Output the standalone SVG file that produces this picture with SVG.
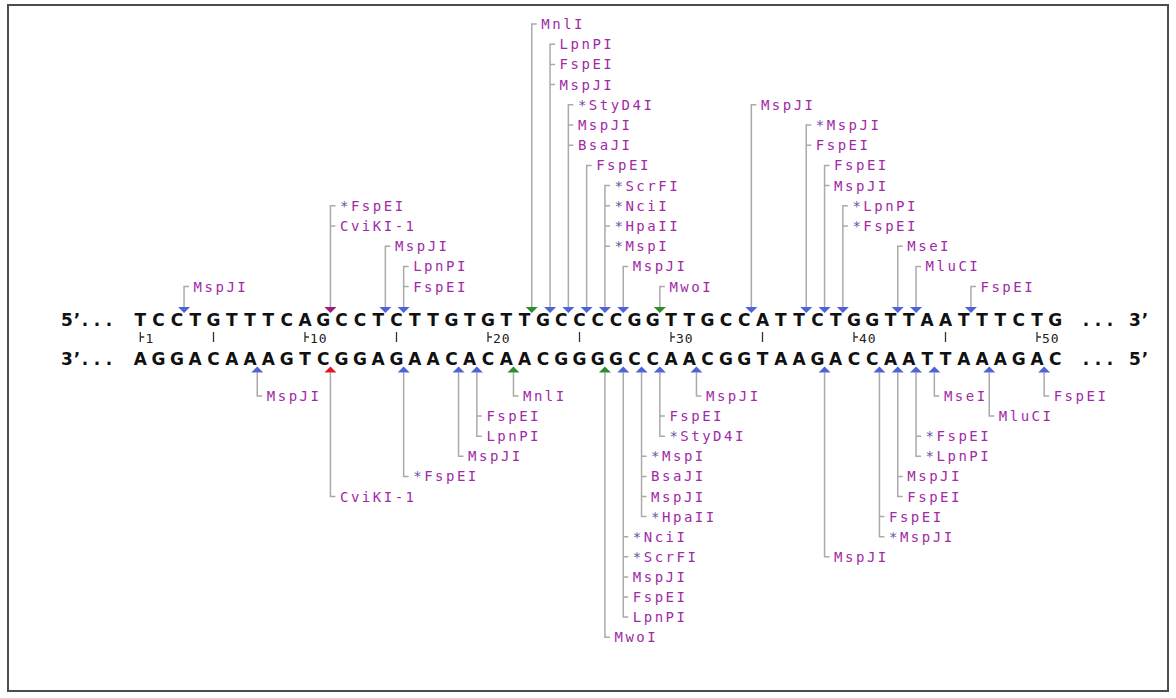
<svg xmlns="http://www.w3.org/2000/svg" xmlns:xlink="http://www.w3.org/1999/xlink" width="1176" height="698" viewBox="0 0 1176 698">
  <defs>
    <style>
      .frame{fill:#fff;stroke:#4d4d4d;stroke-width:2}
      .seq{font-family:"DejaVu Sans",sans-serif;font-weight:bold;font-size:17px;fill:#111;text-anchor:middle}
      .tick{fill:none;stroke:#333;stroke-width:1.3}
      .num{font-family:"DejaVu Sans Mono",monospace;font-size:13px;fill:#222;letter-spacing:1px}
      .lbl{font-family:"DejaVu Sans Mono",monospace;font-size:14px;letter-spacing:2.5px;fill:#a12aa6}
      .st{fill:#6a52a8}
      #connectors path{fill:none;stroke:#aaaaaa;stroke-width:1.5}
      .blue{fill:#4f63d9}
      .green{fill:#2e8b2e}
      .purple{fill:#9b1c7c}
      .red{fill:#e3161f}
    </style>
    <!-- cut-site markers: down for the top strand, up for the bottom strand -->
    <path id="dn" d="M-6,0H6L0,6Z"/>
    <path id="up" d="M-6,0H6L0,-6Z"/>
  </defs>

  <rect class="frame" x="8" y="5" width="1160" height="686"/>

  <!-- connectors: leader lines from cut sites to enzyme names -->
  <g id="connectors">
    <!-- top strand -->
    <path d="M189.05,286.6H184.05V307"/>
    <path d="M335.45,205.8H330.45V307M330.45,226H335.45"/>
    <path d="M390.35,246.2H385.35V307"/>
    <path d="M408.65,266.4H403.65V307M403.65,286.6H408.65"/>
    <path d="M536.75,24H531.75V307"/>
    <path d="M555.05,44.2H550.05V307M550.05,64.4H555.05M550.05,84.6H555.05"/>
    <path d="M573.35,104.8H568.35V307M568.35,125H573.35M568.35,145.2H573.35"/>
    <path d="M591.65,165.4H586.65V307"/>
    <path d="M609.95,185.6H604.95V307M604.95,205.8H609.95M604.95,226H609.95M604.95,246.2H609.95"/>
    <path d="M628.25,266.4H623.25V307"/>
    <path d="M664.85,286.6H659.85V307"/>
    <path d="M756.35,104.8H751.35V307"/>
    <path d="M811.25,125H806.25V307M806.25,145.2H811.25"/>
    <path d="M829.55,165.4H824.55V307M824.55,185.6H829.55"/>
    <path d="M847.85,205.8H842.85V307M842.85,226H847.85"/>
    <path d="M902.75,246.2H897.75V307"/>
    <path d="M921.05,266.4H916.05V307"/>
    <path d="M975.95,286.6H970.95V307"/>
    <!-- bottom strand -->
    <path d="M257.25,372.5V396H262.25"/>
    <path d="M330.45,372.5V496.5H335.45"/>
    <path d="M403.65,372.5V476.4H408.65"/>
    <path d="M458.55,372.5V456.3H463.55"/>
    <path d="M476.85,372.5V436.2H481.85M476.85,416.1H481.85"/>
    <path d="M513.45,372.5V396H518.45"/>
    <path d="M604.95,372.5V637.2H609.95"/>
    <path d="M623.25,372.5V617.1H628.25M623.25,536.7H628.25M623.25,556.8H628.25M623.25,576.9H628.25M623.25,597H628.25"/>
    <path d="M641.55,372.5V516.6H646.55M641.55,456.3H646.55M641.55,476.4H646.55M641.55,496.5H646.55"/>
    <path d="M659.85,372.5V436.2H664.85M659.85,416.1H664.85"/>
    <path d="M696.45,372.5V396H701.45"/>
    <path d="M824.55,372.5V556.8H829.55"/>
    <path d="M879.45,372.5V536.7H884.45M879.45,516.6H884.45"/>
    <path d="M897.75,372.5V496.5H902.75M897.75,476.4H902.75"/>
    <path d="M916.05,372.5V456.3H921.05M916.05,436.2H921.05"/>
    <path d="M934.35,372.5V396H939.35"/>
    <path d="M989.25,372.5V416.1H994.25"/>
    <path d="M1044.15,372.5V396H1049.15"/>
  </g>

  <!-- double-stranded sequence with ruler -->
  <g id="sequence">
    <text class="seq" x="67 77 85 97 109" y="326">5’...</text>
    <text class="seq" y="326" x="140.3 158.6 176.9 195.2 213.5 231.8 250.1 268.4 286.7 305 323.3 341.6 359.9 378.2 396.5 414.8 433.1 451.4 469.7 488 506.3 524.6 542.9 561.2 579.5 597.8 616.1 634.4 652.7 671 689.3 707.6 725.9 744.2 762.5 780.8 799.1 817.4 835.7 854 872.3 890.6 908.9 927.2 945.5 963.8 982.1 1000.4 1018.7 1037 1055.3">TCCTGTTTCAGCCTCTTGTGTTGCCCCGGTTGCCATTCTGGTTAATTTCTG</text>
    <text class="seq" x="1086 1098 1110 1135 1145" y="326">...3’</text>

    <text class="seq" x="67 77 85 97 109" y="365">3’...</text>
    <text class="seq" y="365" x="140.3 158.6 176.9 195.2 213.5 231.8 250.1 268.4 286.7 305 323.3 341.6 359.9 378.2 396.5 414.8 433.1 451.4 469.7 488 506.3 524.6 542.9 561.2 579.5 597.8 616.1 634.4 652.7 671 689.3 707.6 725.9 744.2 762.5 780.8 799.1 817.4 835.7 854 872.3 890.6 908.9 927.2 945.5 963.8 982.1 1000.4 1018.7 1037 1055.3">AGGACAAAGTCGGAGAACACAACGGGGCCAACGGTAAGACCAATTAAAGAC</text>
    <text class="seq" x="1086 1098 1110 1135 1145" y="365">...5’</text>

    <g id="ruler">
      <path class="tick" d="M140.3,332V342M140.3,337H144.3 M213.5,332V342 M305,332V342M305,337H309 M396.5,332V342 M488,332V342M488,337H492 M579.5,332V342 M671,332V342M671,337H675 M762.5,332V342 M854,332V342M854,337H858 M945.5,332V342 M1037,332V342M1037,337H1041"/>
      <text class="num" x="145.5" y="342.5">1</text>
      <text class="num" x="310" y="342.5">10</text>
      <text class="num" x="493" y="342.5">20</text>
      <text class="num" x="676" y="342.5">30</text>
      <text class="num" x="859" y="342.5">40</text>
      <text class="num" x="1042" y="342.5">50</text>
    </g>
  </g>

  <!-- top strand cut sites -->
  <g id="top-k3"><use href="#dn" x="184.05" y="307" class="blue"/><text class="lbl" x="193.6" y="291.6">MspJI</text></g>
  <g id="top-k11"><use href="#dn" x="330.45" y="307" class="purple"/><text class="lbl" x="340" y="210.8"><tspan class="st">*</tspan>FspEI</text><text class="lbl" x="340" y="231">CviKI-1</text></g>
  <g id="top-k14"><use href="#dn" x="385.35" y="307" class="blue"/><text class="lbl" x="394.9" y="251.2">MspJI</text></g>
  <g id="top-k15"><use href="#dn" x="403.65" y="307" class="blue"/><text class="lbl" x="413.2" y="271.4">LpnPI</text><text class="lbl" x="413.2" y="291.6">FspEI</text></g>
  <g id="top-k22"><use href="#dn" x="531.75" y="307" class="green"/><text class="lbl" x="541.3" y="29">MnlI</text></g>
  <g id="top-k23"><use href="#dn" x="550.05" y="307" class="blue"/><text class="lbl" x="559.6" y="49.2">LpnPI</text><text class="lbl" x="559.6" y="69.4">FspEI</text><text class="lbl" x="559.6" y="89.6">MspJI</text></g>
  <g id="top-k24"><use href="#dn" x="568.35" y="307" class="blue"/><text class="lbl" x="577.9" y="109.8"><tspan class="st">*</tspan>StyD4I</text><text class="lbl" x="577.9" y="130">MspJI</text><text class="lbl" x="577.9" y="150.2">BsaJI</text></g>
  <g id="top-k25"><use href="#dn" x="586.65" y="307" class="blue"/><text class="lbl" x="596.2" y="170.4">FspEI</text></g>
  <g id="top-k26"><use href="#dn" x="604.95" y="307" class="blue"/><text class="lbl" x="614.5" y="190.6"><tspan class="st">*</tspan>ScrFI</text><text class="lbl" x="614.5" y="210.8"><tspan class="st">*</tspan>NciI</text><text class="lbl" x="614.5" y="231"><tspan class="st">*</tspan>HpaII</text><text class="lbl" x="614.5" y="251.2"><tspan class="st">*</tspan>MspI</text></g>
  <g id="top-k27"><use href="#dn" x="623.25" y="307" class="blue"/><text class="lbl" x="632.8" y="271.4">MspJI</text></g>
  <g id="top-k29"><use href="#dn" x="659.85" y="307" class="green"/><text class="lbl" x="669.4" y="291.6">MwoI</text></g>
  <g id="top-k34"><use href="#dn" x="751.35" y="307" class="blue"/><text class="lbl" x="760.9" y="109.8">MspJI</text></g>
  <g id="top-k37"><use href="#dn" x="806.25" y="307" class="blue"/><text class="lbl" x="815.8" y="130"><tspan class="st">*</tspan>MspJI</text><text class="lbl" x="815.8" y="150.2">FspEI</text></g>
  <g id="top-k38"><use href="#dn" x="824.55" y="307" class="blue"/><text class="lbl" x="834.1" y="170.4">FspEI</text><text class="lbl" x="834.1" y="190.6">MspJI</text></g>
  <g id="top-k39"><use href="#dn" x="842.85" y="307" class="blue"/><text class="lbl" x="852.4" y="210.8"><tspan class="st">*</tspan>LpnPI</text><text class="lbl" x="852.4" y="231"><tspan class="st">*</tspan>FspEI</text></g>
  <g id="top-k42"><use href="#dn" x="897.75" y="307" class="blue"/><text class="lbl" x="907.3" y="251.2">MseI</text></g>
  <g id="top-k43"><use href="#dn" x="916.05" y="307" class="blue"/><text class="lbl" x="925.6" y="271.4">MluCI</text></g>
  <g id="top-k46"><use href="#dn" x="970.95" y="307" class="blue"/><text class="lbl" x="980.5" y="291.6">FspEI</text></g>

  <!-- bottom strand cut sites -->
  <g id="bot-k7"><use href="#up" x="257.25" y="372.5" class="blue"/><text class="lbl" x="266.8" y="401">MspJI</text></g>
  <g id="bot-k11"><use href="#up" x="330.45" y="372.5" class="red"/><text class="lbl" x="340" y="501.5">CviKI-1</text></g>
  <g id="bot-k15"><use href="#up" x="403.65" y="372.5" class="blue"/><text class="lbl" x="413.2" y="481.4"><tspan class="st">*</tspan>FspEI</text></g>
  <g id="bot-k18"><use href="#up" x="458.55" y="372.5" class="blue"/><text class="lbl" x="468.1" y="461.3">MspJI</text></g>
  <g id="bot-k19"><use href="#up" x="476.85" y="372.5" class="blue"/><text class="lbl" x="486.4" y="421.1">FspEI</text><text class="lbl" x="486.4" y="441.2">LpnPI</text></g>
  <g id="bot-k21"><use href="#up" x="513.45" y="372.5" class="green"/><text class="lbl" x="523" y="401">MnlI</text></g>
  <g id="bot-k26"><use href="#up" x="604.95" y="372.5" class="green"/><text class="lbl" x="614.5" y="642.2">MwoI</text></g>
  <g id="bot-k27"><use href="#up" x="623.25" y="372.5" class="blue"/><text class="lbl" x="632.8" y="541.7"><tspan class="st">*</tspan>NciI</text><text class="lbl" x="632.8" y="561.8"><tspan class="st">*</tspan>ScrFI</text><text class="lbl" x="632.8" y="581.9">MspJI</text><text class="lbl" x="632.8" y="602">FspEI</text><text class="lbl" x="632.8" y="622.1">LpnPI</text></g>
  <g id="bot-k28"><use href="#up" x="641.55" y="372.5" class="blue"/><text class="lbl" x="651.1" y="461.3"><tspan class="st">*</tspan>MspI</text><text class="lbl" x="651.1" y="481.4">BsaJI</text><text class="lbl" x="651.1" y="501.5">MspJI</text><text class="lbl" x="651.1" y="521.6"><tspan class="st">*</tspan>HpaII</text></g>
  <g id="bot-k29"><use href="#up" x="659.85" y="372.5" class="blue"/><text class="lbl" x="669.4" y="421.1">FspEI</text><text class="lbl" x="669.4" y="441.2"><tspan class="st">*</tspan>StyD4I</text></g>
  <g id="bot-k31"><use href="#up" x="696.45" y="372.5" class="blue"/><text class="lbl" x="706" y="401">MspJI</text></g>
  <g id="bot-k38"><use href="#up" x="824.55" y="372.5" class="blue"/><text class="lbl" x="834.1" y="561.8">MspJI</text></g>
  <g id="bot-k41"><use href="#up" x="879.45" y="372.5" class="blue"/><text class="lbl" x="889" y="521.6">FspEI</text><text class="lbl" x="889" y="541.7"><tspan class="st">*</tspan>MspJI</text></g>
  <g id="bot-k42"><use href="#up" x="897.75" y="372.5" class="blue"/><text class="lbl" x="907.3" y="481.4">MspJI</text><text class="lbl" x="907.3" y="501.5">FspEI</text></g>
  <g id="bot-k43"><use href="#up" x="916.05" y="372.5" class="blue"/><text class="lbl" x="925.6" y="441.2"><tspan class="st">*</tspan>FspEI</text><text class="lbl" x="925.6" y="461.3"><tspan class="st">*</tspan>LpnPI</text></g>
  <g id="bot-k44"><use href="#up" x="934.35" y="372.5" class="blue"/><text class="lbl" x="943.9" y="401">MseI</text></g>
  <g id="bot-k47"><use href="#up" x="989.25" y="372.5" class="blue"/><text class="lbl" x="998.8" y="421.1">MluCI</text></g>
  <g id="bot-k50"><use href="#up" x="1044.15" y="372.5" class="blue"/><text class="lbl" x="1053.7" y="401">FspEI</text></g>
</svg>
